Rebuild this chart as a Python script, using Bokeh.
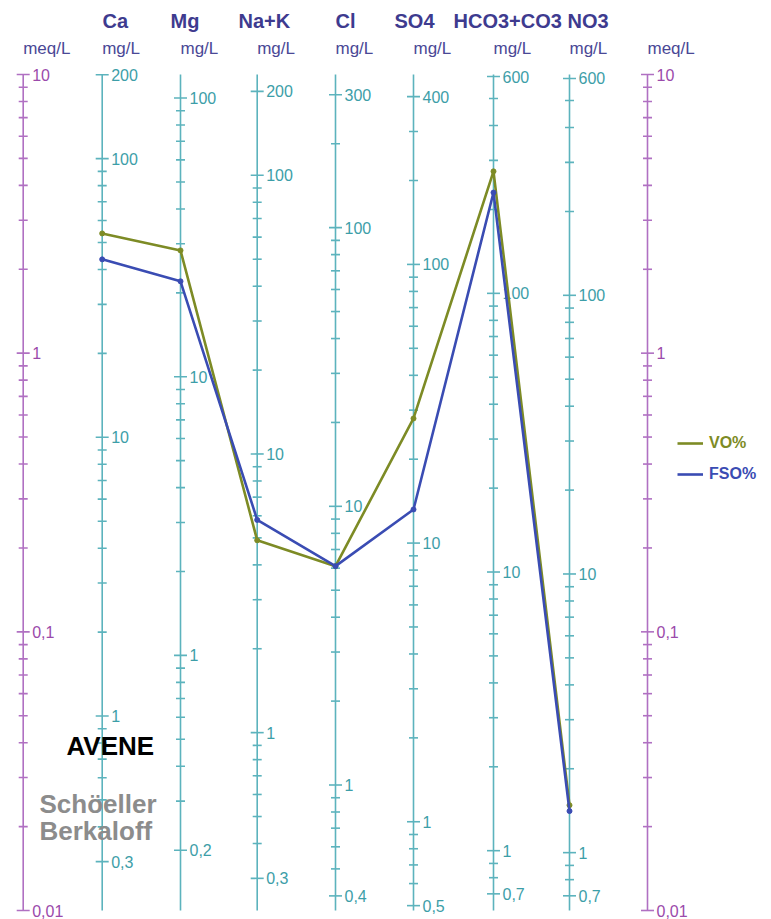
import math
from bokeh.plotting import figure
from bokeh.models import ColumnDataSource, Range1d, Legend, LegendItem
from bokeh.core.properties import value
from bokeh.embed import file_html
from bokeh.resources import INLINE

# ---------------- data ----------------
ions = ["Ca", "Mg", "Na+K", "Cl", "SO4", "HCO3+CO3", "NO3"]
eq_weight = [20.04, 12.15, 23.0, 35.45, 48.03, 61.0, 62.0]      # mg per meq
vo_mg = [53.9, 28.4, 4.9, 6.1, 28.0, 274.0, 1.48]               # VO% (mg/L)
fso_mg = [43.5, 22.0, 5.8, 6.1, 13.2, 230.0, 1.41]              # FSO% (mg/L)
mg_tick_labels = [
    [200, 100, 10, 1, 0.3],
    [100, 10, 1, 0.2],
    [200, 100, 10, 1, 0.3],
    [300, 100, 10, 1, 0.4],
    [400, 100, 10, 1, 0.5],
    [600, 100, 10, 1, 0.7],
    [600, 100, 10, 1, 0.7],
]
meq_tick_labels = [10, 1, 0.1, 0.01]
series_names = ["VO%", "FSO%"]
site_name = "AVENE"
diagram_name = ["Schöeller", "Berkaloff"]
unit_mg = "mg/L"
unit_meq = "meq/L"

# ---------------- layout ----------------
W, H = 771, 919
TOP_PY, BOT_PY = 74.0, 910.0           # page y of 10 and 0.01 meq/L
DEC = (BOT_PY - TOP_PY) / 3.0
col_x = [101.7, 180.0, 256.7, 335.0, 413.0, 493.0, 569.0]
meq_x = [22.7, 647.0]
title_x = [102, 170, 238, 335, 394, 453, 567]

def yv(py):
    return 10 ** (1 - (py - TOP_PY) / DEC)

def page_y(v):
    return TOP_PY + (1 - math.log10(v)) * DEC

FONT = value("Liberation Sans")
OLIVE = "#7d8b25"
BLUE = "#3a4cb3"
TEAL = "#5cb3bd"
TEAL_TXT = "#3d9ea8"
PURPLE = "#b070c2"
PURPLE_TXT = "#9b4aab"
NAVY = "#3e3b8f"

p = figure(width=W, height=H, x_range=Range1d(0, W),
           y_range=Range1d(yv(H), yv(0)), y_axis_type="log",
           x_axis_location=None, y_axis_location=None,
           toolbar_location=None, output_backend="svg", min_border=0)
p.outline_line_color = None
p.xgrid.visible = False
p.ygrid.visible = False
p.background_fill_color = "white"

def fmt(v):
    return ("%g" % v).replace(".", ",")

# ---- axes drawn per column ----
def build_axis(x, eqw, labels, color, txtcolor):
    lo, hi = eqw * 0.01, eqw * 10
    x0, x1, y0, y1 = [x], [x], [0.01], [10.0]
    for k in range(-3, 4):
        for m in range(1, 10):
            v = m * 10 ** k
            if lo * 0.999 <= v <= hi * 1.001:
                big = (m == 1) or any(abs(v - L) < 1e-9 for L in labels)
                hl = 6.5 if big else 4.5
                x0.append(x - hl); x1.append(x + hl)
                y0.append(v / eqw); y1.append(v / eqw)
    p.segment(x0=x0, y0=y0, x1=x1, y1=y1, line_color=color, line_width=1.6)
    ys = [L / eqw for L in labels]
    offs = [min(0.0, H - (page_y(y) + 8)) for y in ys]
    src = ColumnDataSource(dict(x=[x + 9] * len(labels), y=ys,
                                t=[fmt(L) for L in labels], off=offs))
    p.text(x="x", y="y", text="t", y_offset="off", source=src, text_font=FONT,
           text_font_size="16px", text_color=txtcolor,
           text_baseline="middle", text_align="left")

for i in range(len(ions)):
    build_axis(col_x[i], eq_weight[i], mg_tick_labels[i], TEAL, TEAL_TXT)
for mx in meq_x:
    build_axis(mx, 1.0, meq_tick_labels, PURPLE, PURPLE_TXT)

# ---- headers ----
p.text(x=title_x, y=[yv(20)] * len(ions), text=ions, text_font=FONT,
       text_font_size="20px", text_font_style="bold", text_color=NAVY,
       text_baseline="middle", text_align="left")
p.text(x=col_x, y=[yv(48)] * len(ions), text=[unit_mg] * len(ions),
       text_font=FONT, text_font_size="17px", text_color="#4a4896",
       text_baseline="middle", text_align="left")
p.text(x=meq_x, y=[yv(48)] * 2, text=[unit_meq] * 2,
       text_font=FONT, text_font_size="17px", text_color="#4a4896",
       text_baseline="middle", text_align="left")

# ---- series ----
vo_meq = [m / e for m, e in zip(vo_mg, eq_weight)]
fso_meq = [m / e for m, e in zip(fso_mg, eq_weight)]
r_vo = p.line(col_x, vo_meq, line_color=OLIVE, line_width=2.6)
p.scatter(col_x, vo_meq, size=5, color=OLIVE)
r_fso = p.line(col_x, fso_meq, line_color=BLUE, line_width=2.6)
p.scatter(col_x, fso_meq, size=5, color=BLUE)

# ---- captions ----
p.text(x=[66], y=[yv(745)], text=[site_name], text_font=FONT,
       text_font_size="26px", text_font_style="bold", text_color="black",
       text_baseline="middle", text_align="left")
p.text(x=[39, 39], y=[yv(803), yv(830)], text=diagram_name, text_font=FONT,
       text_font_size="26px", text_font_style="bold", text_color="#8c8c8c",
       text_baseline="middle", text_align="left")

# ---- legends ----
for r, name, col, py in [(r_vo, series_names[0], OLIVE, 443), (r_fso, series_names[1], BLUE, 474)]:
    leg = Legend(items=[LegendItem(label=name, renderers=[r])],
                 location=(677, H - (py + 10)),
                 border_line_color=None, background_fill_alpha=0,
                 padding=0, margin=0, spacing=0, glyph_width=26, glyph_height=20,
                 label_standoff=6, label_text_font="Liberation Sans",
                 label_text_font_size="16px", label_text_font_style="bold",
                 label_text_color=col)
    p.add_layout(leg)

open("out.html", "w").write(file_html(p, INLINE))
